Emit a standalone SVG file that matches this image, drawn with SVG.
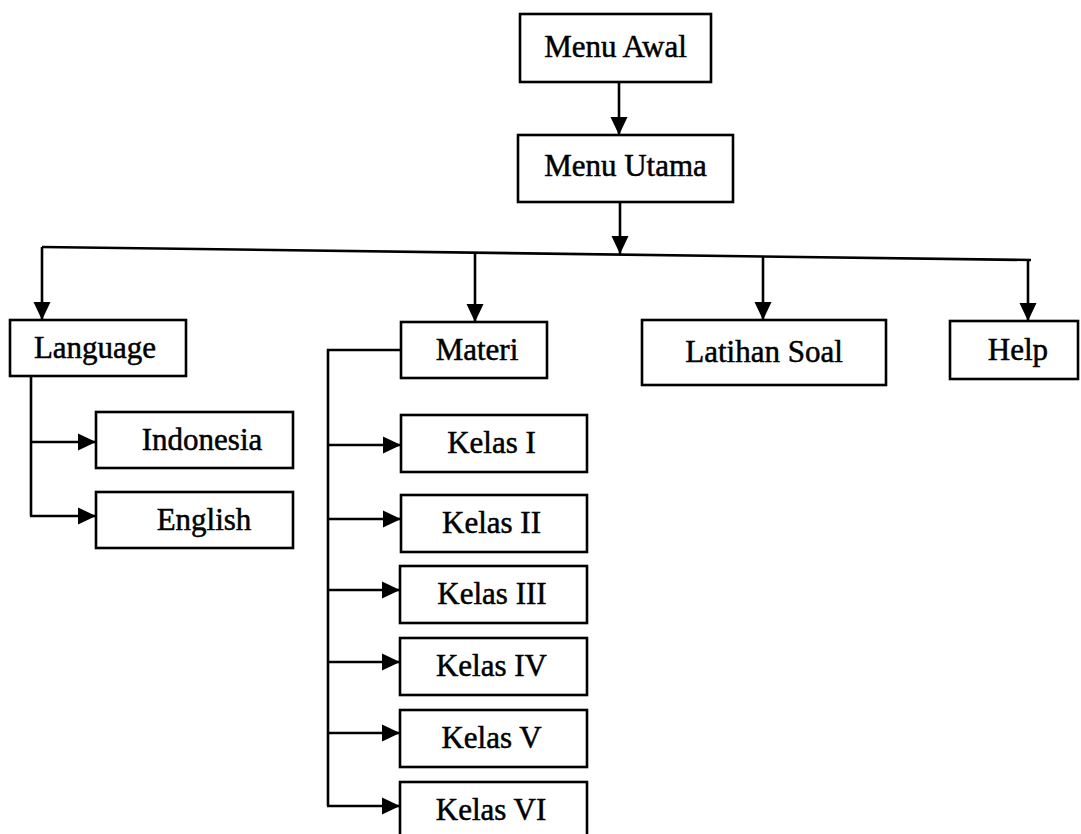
<svg xmlns="http://www.w3.org/2000/svg" width="1081" height="834" viewBox="0 0 1081 834">
<style>
.box{fill:#fff;stroke:#000;stroke-width:2.6}
.lbl{font-family:"Liberation Serif","Times New Roman",serif;font-size:31px;fill:#000;stroke:#000;stroke-width:0.5;text-anchor:middle}
.ln{fill:none;stroke:#000;stroke-width:2.6}
.ar{fill:none;stroke:#000;stroke-width:2.6;marker-end:url(#ah)}
</style>
<defs>
<marker id="ah" markerUnits="userSpaceOnUse" markerWidth="18" markerHeight="18" viewBox="0 0 18 18" refX="18" refY="9" orient="auto">
<path d="M0,0.5 L18,9 L0,17.5 Z" fill="#000"/>
</marker>
</defs>
<rect width="1081" height="834" fill="#fff"/>
<g id="connectors">
<line class="ar" x1="619" y1="82" x2="619" y2="135"/>
<line class="ar" x1="620" y1="202" x2="620" y2="254"/>
<line class="ln" x1="42" y1="247" x2="1031" y2="260"/>
<line class="ar" x1="42" y1="247" x2="42" y2="320"/>
<line class="ar" x1="475" y1="253" x2="475" y2="322"/>
<line class="ar" x1="763" y1="256" x2="763" y2="320"/>
<line class="ar" x1="1028" y1="260" x2="1028" y2="321"/>
<path class="ln" d="M31,376 V516"/>
<line class="ar" x1="30" y1="442" x2="96" y2="442"/>
<line class="ar" x1="30" y1="516" x2="96" y2="516"/>
<path class="ln" d="M401,350 H328 V806"/>
<line class="ar" x1="327" y1="445" x2="401" y2="445"/>
<line class="ar" x1="327" y1="519" x2="401" y2="519"/>
<line class="ar" x1="327" y1="590" x2="400" y2="590"/>
<line class="ar" x1="327" y1="662" x2="400" y2="662"/>
<line class="ar" x1="327" y1="733" x2="400" y2="733"/>
<line class="ar" x1="327" y1="806" x2="400" y2="806"/>
</g>
<g id="menu-awal"><rect class="box" x="520" y="14" width="191" height="68"/><text class="lbl" x="615.5" y="57">Menu Awal</text></g>
<g id="menu-utama"><rect class="box" x="518" y="135" width="215" height="67"/><text class="lbl" x="625.5" y="176">Menu Utama</text></g>
<g id="language"><rect class="box" x="10" y="320" width="176" height="56"/><text class="lbl" x="95" y="358">Language</text></g>
<g id="materi"><rect class="box" x="401" y="322" width="146" height="56"/><text class="lbl" x="477" y="360">Materi</text></g>
<g id="latihan-soal"><rect class="box" x="642" y="320" width="244" height="65"/><text class="lbl" x="764" y="362">Latihan Soal</text></g>
<g id="help"><rect class="box" x="950" y="321" width="128" height="58"/><text class="lbl" x="1018" y="360">Help</text></g>
<g id="indonesia"><rect class="box" x="96" y="412" width="197" height="56"/><text class="lbl" x="202" y="450">Indonesia</text></g>
<g id="english"><rect class="box" x="96" y="492" width="197" height="56"/><text class="lbl" x="204" y="530">English</text></g>
<g id="kelas-1"><rect class="box" x="401" y="415" width="186" height="57"/><text class="lbl" x="491.5" y="453">Kelas I</text></g>
<g id="kelas-2"><rect class="box" x="401" y="495" width="186" height="57"/><text class="lbl" x="491.5" y="533">Kelas II</text></g>
<g id="kelas-3"><rect class="box" x="400" y="566" width="187" height="57"/><text class="lbl" x="492" y="604">Kelas III</text></g>
<g id="kelas-4"><rect class="box" x="400" y="638" width="187" height="57"/><text class="lbl" x="491.5" y="676">Kelas IV</text></g>
<g id="kelas-5"><rect class="box" x="400" y="710" width="187" height="57"/><text class="lbl" x="491.5" y="748">Kelas V</text></g>
<g id="kelas-6"><rect class="box" x="400" y="782" width="187" height="60"/><text class="lbl" x="491" y="820">Kelas VI</text></g>
</svg>
